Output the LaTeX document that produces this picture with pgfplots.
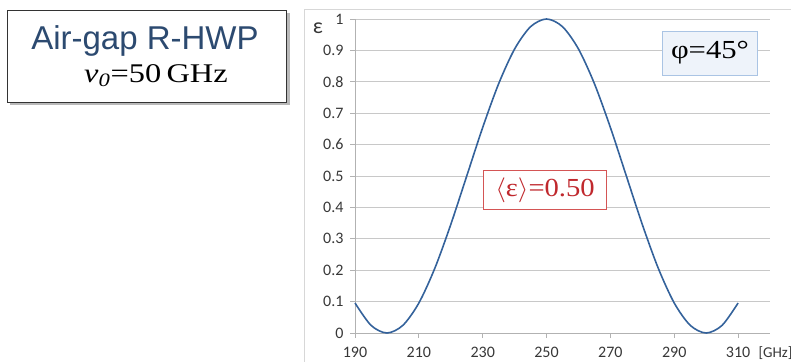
\documentclass[border=0pt]{standalone}
\usepackage{fontspec}
\usepackage{graphicx}
\usepackage{pgfplots}
\pgfplotsset{compat=1.18}
\setmainfont{Liberation Serif}
\newfontfamily\arial{Liberation Sans}
\newfontfamily\calibri{Carlito}
\definecolor{titlec}{RGB}{44,74,112}
\definecolor{curve}{RGB}{52,98,155}
\definecolor{gridc}{RGB}{200,200,200}
\definecolor{framec}{RGB}{215,215,215}
\definecolor{redt}{RGB}{192,40,45}
\definecolor{redb}{RGB}{212,85,85}
\definecolor{bluef}{RGB}{238,243,250}
\definecolor{blueb}{RGB}{170,196,228}
\definecolor{labc}{RGB}{55,55,55}
\begin{document}
\begin{tikzpicture}[x=1pt,y=1pt]
\useasboundingbox (0,0) rectangle (791,361);
\clip (0,0) rectangle (791,361);
% chart frame
\draw[framec, line width=1pt] (304,351) rectangle (820,-20);
% title box
\fill[gray!55] (10,256) rectangle (290,348);
\draw[fill=white, draw=black!80, line width=0.8pt] (7,259) rectangle (286,351);
\node[anchor=base, text=titlec, font=\arial\fontsize{33}{36}\selectfont] at (145,311) {Air-gap R-HWP};
\node[anchor=base, font=\fontsize{27}{30}\selectfont] at (156,278) {\scalebox{1.2}[1]{\textit{ν\textsubscript{0}}=50\,GHz}};
\begin{axis}[
  at={(355pt,28pt)}, anchor=south west, scale only axis,
  width=415pt, height=314pt,
  xmin=190, xmax=320, ymin=0, ymax=1,
  xtick={190,210,230,250,270,290,310},
  ytick={0,0.1,0.2,0.3,0.4,0.5,0.6,0.7,0.8,0.9,1},
  yticklabels={0,0.1,0.2,0.3,0.4,0.5,0.6,0.7,0.8,0.9,1},
  axis x line*=bottom, axis y line*=left,
  axis line style={gray!60, line width=0.8pt},
  ymajorgrids, grid style={gridc, line width=0.8pt},
  major tick length=5pt, tick style={gray!60, line width=0.8pt},
  tick align=outside, xtick pos=bottom, ytick pos=left,
  ticklabel style={font=\calibri\fontsize{16}{18}\selectfont, text=labc},
  /pgf/number format/assume math mode=true,
  yticklabel style={xshift=-3pt},
  xticklabel style={yshift=-6pt},
  clip=false,
]
\addplot[curve, line width=1.6pt, smooth] coordinates {
(190,0.0955) (195,0.0245) (200,0) (205,0.0245) (210,0.0955) (215,0.2061)
(220,0.3455) (225,0.5) (230,0.6545) (235,0.7939) (240,0.9045) (245,0.9755)
(250,1) (255,0.9755) (260,0.9045) (265,0.7939) (270,0.6545) (275,0.5)
(280,0.3455) (285,0.2061) (290,0.0955) (295,0.0245) (300,0) (305,0.0245)
(310,0.0955)
};
\end{axis}
\node[font=\calibri\fontsize{22}{24}\selectfont, text=labc] at (318,333) {ε};
\node[anchor=west, font=\calibri\fontsize{15}{17}\selectfont, text=labc] at (755,8) {[GHz]};
\node[draw=blueb, fill=bluef, line width=0.8pt, minimum width=95pt, minimum height=44pt, inner sep=0pt, font=\fontsize{26}{30}\selectfont] at (710,308) {\scalebox{1.18}[1]{φ=45°}};
\node[draw=redb, fill=white, line width=1pt, minimum width=123pt, minimum height=39pt, inner sep=0pt, text=redt, font=\fontsize{26}{30}\selectfont] at (545,171) {\scalebox{1.1}[1]{$\langle$ε$\rangle$=0.50}};
\end{tikzpicture}
\end{document}
